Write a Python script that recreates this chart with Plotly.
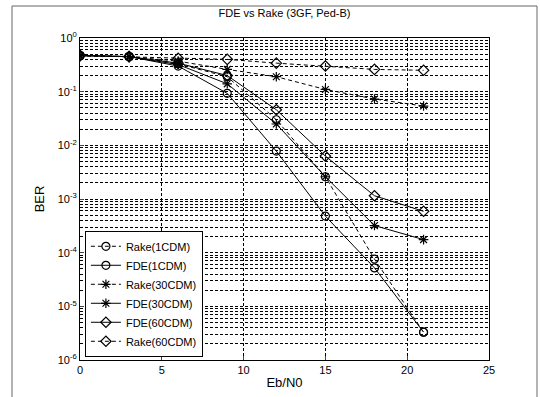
import plotly.graph_objects as go

ebn0 = [0, 3, 6, 9, 12, 15, 18, 21]
rake_1cdm = [0.47, 0.45, 0.33, 0.19, 0.030, 2.6e-3, 7.6e-5, 3.3e-6]
fde_1cdm = [0.47, 0.45, 0.30, 0.093, 0.0078, 4.8e-4, 5.2e-5, 3.3e-6]
rake_30cdm = [0.47, 0.45, 0.37, 0.26, 0.19, 0.11, 0.073, 0.054]
fde_30cdm = [0.47, 0.45, 0.32, 0.14, 0.025, 2.6e-3, 3.2e-4, 1.75e-4]
fde_60cdm = [0.47, 0.45, 0.34, 0.20, 0.046, 6.3e-3, 1.15e-3, 5.9e-4]
rake_60cdm = [0.47, 0.45, 0.42, 0.40, 0.34, 0.30, 0.26, 0.25]

series = [
    ("Rake(1CDM)", rake_1cdm, "dash", "circle-open"),
    ("FDE(1CDM)", fde_1cdm, "solid", "circle-open"),
    ("Rake(30CDM)", rake_30cdm, "dash", "asterisk-open"),
    ("FDE(30CDM)", fde_30cdm, "solid", "asterisk-open"),
    ("FDE(60CDM)", fde_60cdm, "solid", "diamond-open"),
    ("Rake(60CDM)", rake_60cdm, "dash", "diamond-open"),
]

ytick_vals = [1, 1e-1, 1e-2, 1e-3, 1e-4, 1e-5, 1e-6]
ytick_text = ["10<sup>0</sup>", "10<sup>-1</sup>", "10<sup>-2</sup>", "10<sup>-3</sup>",
              "10<sup>-4</sup>", "10<sup>-5</sup>", "10<sup>-6</sup>"]
xtick_vals = [0, 5, 10, 15, 20, 25]

fig = go.Figure()
for name, vals, dash, sym in series:
    fig.add_trace(go.Scatter(
        x=ebn0, y=vals, name=name, mode="lines+markers",
        line=dict(color="black", width=1, dash="4px,3px" if dash == "dash" else "solid"),
        marker=dict(symbol=sym, size=8, color="black", line=dict(width=1.2, color="black")),
    ))

gridstyle = dict(showgrid=True, gridcolor="black", gridwidth=1, griddash="3px,2px")

fig.update_layout(
    width=540, height=397,
    margin=dict(l=80, r=51, t=38, b=37, autoexpand=False),
    paper_bgcolor="white", plot_bgcolor="white",
    font=dict(family="Arial, Liberation Sans, sans-serif", size=11, color="black"),
    title=dict(text="FDE vs Rake (3GF, Ped-B)", x=(80 + 489) / 2 / 540, xanchor="center",
               y=1 - 13 / 397, yanchor="middle", font=dict(size=11)),
    showlegend=True,
    legend=dict(x=0.012, y=0.01, xanchor="left", yanchor="bottom",
                bordercolor="black", borderwidth=1, bgcolor="white",
                font=dict(size=11), tracegroupgap=0, itemwidth=30),
    xaxis=dict(range=[0, 25], tickvals=xtick_vals, ticks="inside", ticklen=4,
               showline=True, linecolor="black", mirror=True, zeroline=False,
               automargin=False,
               title=dict(text="Eb/N0", standoff=2), **gridstyle),
    yaxis=dict(type="log", range=[-6, 0], tickvals=ytick_vals, ticktext=ytick_text,
               ticks="inside", ticklen=4, showline=True, linecolor="black", mirror=True,
               automargin=False,
               title=dict(text="BER", standoff=10),
               minor=dict(showgrid=True, gridcolor="black", gridwidth=1, griddash="3px,2px",
                          dtick="D1", ticks=""),
               **gridstyle),
    shapes=[dict(type="rect", xref="paper", yref="paper",
                 x0=(12 - 80) / 409, x1=(537 - 80) / 409,
                 y0=(360 - 420) / 322, y1=(360 - 6) / 322,
                 line=dict(color="#666666", width=1), layer="below")],
)

fig.write_html("out.html", config={"displayModeBar": False},
               post_script="document.body.style.margin='0';")
